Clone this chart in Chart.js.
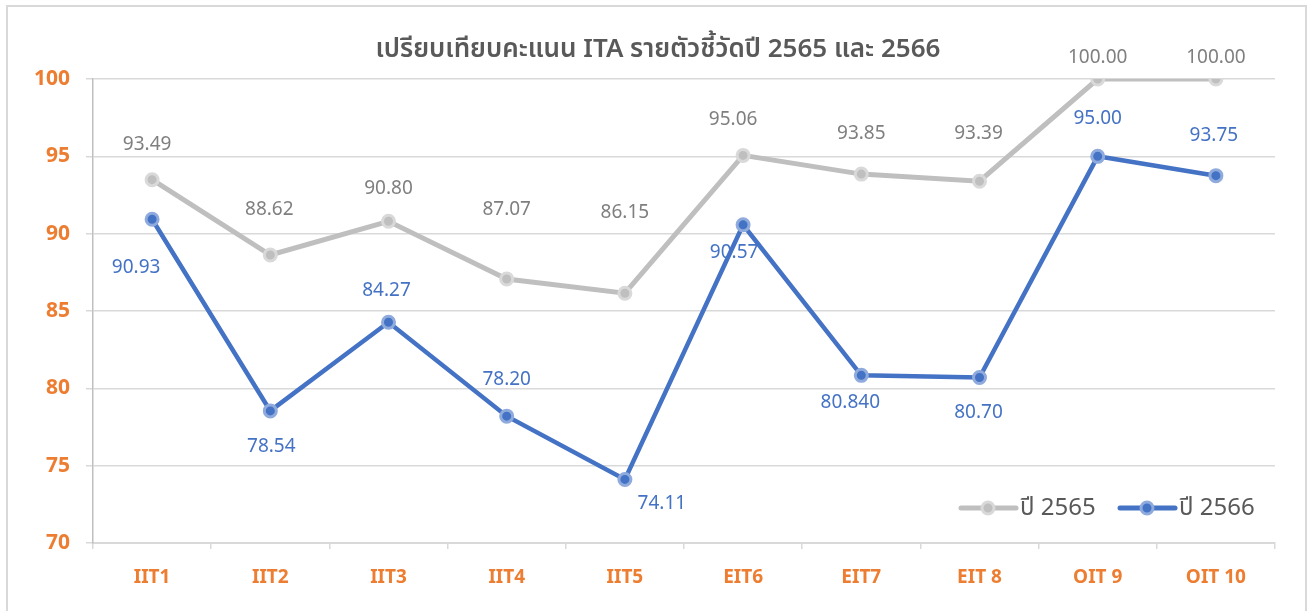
<!DOCTYPE html>
<html>
<head>
<meta charset="utf-8">
<script src="https://cdn.jsdelivr.net/npm/chart.js@4.4.0/dist/chart.umd.min.js"></script>
<style>
  html, body { margin: 0; padding: 0; background: #fff; }
  #wrap { width: 1311px; height: 611px; }
</style>
</head>
<body>
<div id="wrap"><canvas id="itaChart" width="1311" height="611"></canvas></div>
<script>
// categories and values
var indicators = ['IIT1', 'IIT2', 'IIT3', 'IIT4', 'IIT5', 'EIT6', 'EIT7', 'EIT 8', 'OIT 9', 'OIT 10'];
var score2565 = [93.49, 88.62, 90.80, 87.07, 86.15, 95.06, 93.85, 93.39, 100.00, 100.00];
var score2566 = [90.93, 78.54, 84.27, 78.20, 74.11, 90.57, 80.84, 80.70, 95.00, 93.75];
var text2566 = ['90.93', '78.54', '84.27', '78.20', '74.11', '90.57', '80.840', '80.70', '95.00', '93.75'];
var yTicks = [70, 75, 80, 85, 90, 95, 100];

var FONT = "'Noto Sans', 'Noto Sans Thai', 'Leelawadee UI', 'DejaVu Sans', sans-serif";

// where each value label sits relative to its point (px)
var shift2565 = [[-5, -35], [-1, -45], [0, -33], [0, -69], [0, -81], [-10, -36], [0, -41], [-1, -48], [0, -21], [0, -21]];
var shift2566 = [[-16, 48], [1, 36], [-2, -32], [0, -37], [37, 24], [-9, 28], [-11, 27], [-1, 35], [0, -38], [-2, -40]];

var valueLabels = {
    id: 'valueLabels',
    afterDatasetsDraw: function (chart) {
        var ctx = chart.ctx;
        ctx.save();
        ctx.font = '19px ' + FONT;
        ctx.textAlign = 'center';
        ctx.textBaseline = 'middle';
        chart.data.datasets.forEach(function (ds, i) {
            var meta = chart.getDatasetMeta(i);
            var shifts = i === 0 ? shift2565 : shift2566;
            ctx.fillStyle = i === 0 ? '#7f7f7f' : '#4472C4';
            meta.data.forEach(function (pt, j) {
                var txt = i === 0 ? ds.data[j].toFixed(2) : text2566[j];
                ctx.fillText(txt, pt.x + shifts[j][0], pt.y + shifts[j][1]);
            });
        });
        ctx.restore();
    }
};

// title, legend inside the plot and the outer frame
var decorations = {
    id: 'decorations',
    afterDraw: function (chart) {
        var ctx = chart.ctx;
        var area = chart.chartArea;
        ctx.save();
        ctx.strokeStyle = '#d9d9d9';
        ctx.lineWidth = 2;
        ctx.strokeRect(7, 6, 1299, 620);

        ctx.fillStyle = '#595959';
        ctx.font = '600 26px ' + FONT;
        ctx.textAlign = 'center';
        ctx.textBaseline = 'middle';
        ctx.fillText('เปรียบเทียบคะแนน ITA รายตัวชี้วัดปี 2565 และ 2566', 658, 50);

        var items = [
            { x: 961, text: 'ปี 2565', line: '#BFBFBF', fill: '#BFBFBF', ring: '#D9D9D9' },
            { x: 1120, text: 'ปี 2566', line: '#4472C4', fill: '#4472C4', ring: '#8FAADC' }
        ];
        var ly = area.bottom - 35;
        ctx.font = '24px ' + FONT;
        ctx.textAlign = 'left';
        items.forEach(function (it) {
            ctx.strokeStyle = it.line;
            ctx.lineWidth = 5;
            ctx.lineCap = 'round';
            ctx.beginPath();
            ctx.moveTo(it.x, ly);
            ctx.lineTo(it.x + 55, ly);
            ctx.stroke();
            ctx.beginPath();
            ctx.arc(it.x + 27, ly, 6, 0, Math.PI * 2);
            ctx.fillStyle = it.fill;
            ctx.fill();
            ctx.lineWidth = 3;
            ctx.strokeStyle = it.ring;
            ctx.stroke();
            ctx.fillStyle = '#595959';
            ctx.fillText(it.text, it.x + 59, ly);
        });
        ctx.restore();
    }
};

var ctxIta = document.getElementById('itaChart').getContext('2d');
var itaChart = new Chart(ctxIta, {
    type: 'line',
    data: {
        labels: indicators,
        datasets: [{
            label: 'ปี 2565',
            data: score2565,
            borderColor: '#BFBFBF',
            borderWidth: 5,
            pointBackgroundColor: '#BFBFBF',
            pointBorderColor: '#D9D9D9',
            pointBorderWidth: 3,
            pointRadius: 6,
            tension: 0,
            order: 2
        }, {
            label: 'ปี 2566',
            data: score2566,
            borderColor: '#4472C4',
            borderWidth: 4.5,
            pointBackgroundColor: '#4472C4',
            pointBorderColor: '#8FAADC',
            pointBorderWidth: 3,
            pointRadius: 6,
            tension: 0,
            order: 1
        }]
    },
    options: {
        responsive: false,
        animation: false,
        events: [],
        layout: { padding: { left: 0, right: 36, top: 79, bottom: 0 } },
        plugins: {
            legend: { display: false },
            title: { display: false },
            tooltip: { enabled: false }
        },
        scales: {
            x: {
                offset: true,
                afterFit: function (scale) { scale.height = 68; },
                grid: {
                    offset: true,
                    drawOnChartArea: false,
                    color: '#d9d9d9',
                    tickLength: 6,
                    lineWidth: 1.5
                },
                border: { color: '#d9d9d9', width: 2 },
                ticks: {
                    color: '#ED7D31',
                    padding: 17,
                    maxRotation: 0,
                    font: { family: FONT, size: 19, weight: 'bold' }
                }
            },
            y: {
                min: 70,
                max: 100,
                afterFit: function (scale) { scale.width = 93; },
                afterBuildTicks: function (scale) {
                    scale.ticks = yTicks.map(function (v) { return { value: v }; });
                },
                grid: {
                    color: '#d9d9d9',
                    lineWidth: 1.5,
                    tickLength: 7
                },
                border: { color: '#bfbfbf', width: 1.5 },
                ticks: {
                    color: '#ED7D31',
                    padding: 16,
                    font: { family: FONT, size: 21, weight: 'bold' }
                }
            }
        }
    },
    plugins: [valueLabels, decorations]
});
</script>
</body>
</html>
